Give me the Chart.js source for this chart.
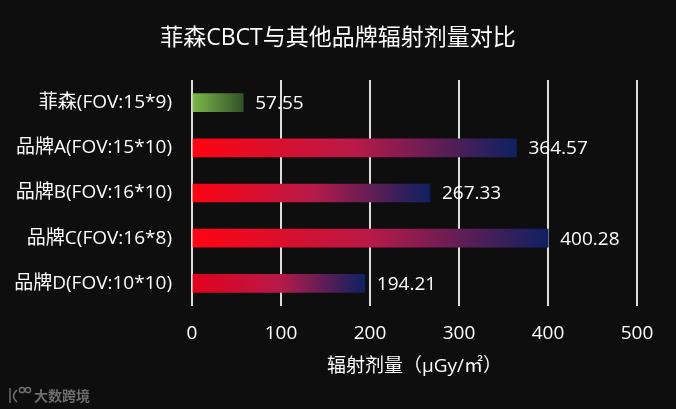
<!DOCTYPE html>
<html>
<head>
<meta charset="utf-8">
<script src="https://cdn.jsdelivr.net/npm/chart.js@4"></script>
<style>
  html, body { margin: 0; padding: 0; background: #0e0e0e; }
  #wrap { width: 676px; height: 409px; position: relative; }
</style>
</head>
<body>
<div id="wrap"><canvas id="chart" width="676" height="409"></canvas></div>
<script>
const categories = ["菲森(FOV:15*9)", "品牌A(FOV:15*10)", "品牌B(FOV:16*10)", "品牌C(FOV:16*8)", "品牌D(FOV:10*10)"];
const doseValues = [57.55, 364.57, 267.33, 400.28, 194.21];
const xTicks = [0, 100, 200, 300, 400, 500];
const chartTitle = "菲森CBCT与其他品牌辐射剂量对比";

const FONT = "'Open Sans', 'Noto Sans CJK SC', sans-serif";

// gradient per bar, from the base to the end of the bar
function barColor(ctx) {
  const chart = ctx.chart;
  const xs = chart.scales.x;
  if (!xs || !chart.chartArea) return "#ff0010";
  const x0 = xs.getPixelForValue(0);
  const x1 = xs.getPixelForValue(doseValues[ctx.dataIndex]);
  if (!isFinite(x0) || !isFinite(x1) || x0 === x1) return "#ff0010";
  const g = chart.ctx.createLinearGradient(x0, 0, x1, 0);
  if (ctx.dataIndex === 0) {
    g.addColorStop(0, "#7cb84a");
    g.addColorStop(1, "#34522a");
  } else {
    g.addColorStop(0, ctx.dataIndex === 4 ? "#e2001a" : "#ff0412");
    g.addColorStop(0.5, "#b81a48");
    g.addColorStop(1, "#0e2162");
  }
  return g;
}

// value labels at the end of the bars
const valueLabels = {
  id: "valueLabels",
  afterDatasetsDraw(chart) {
    const c = chart.ctx;
    const meta = chart.getDatasetMeta(0);
    c.save();
    c.font = "19px " + FONT;
    c.fillStyle = "#ffffff";
    c.textAlign = "left";
    c.textBaseline = "middle";
    meta.data.forEach((bar, i) => {
      c.fillText(doseValues[i].toFixed(2), bar.x + 12, bar.y + 1);
    });
    c.restore();
  }
};

// title centred on the whole canvas + watermark
const decor = {
  id: "decor",
  beforeDraw(chart) {
    const c = chart.ctx;
    c.save();
    c.fillStyle = "#0e0e0e";
    c.fillRect(0, 0, chart.width, chart.height);
    c.restore();
  },
  afterDraw(chart) {
    const c = chart.ctx;
    c.save();
    c.fillStyle = "#ffffff";
    c.font = "23px " + FONT;
    c.textAlign = "center";
    c.textBaseline = "middle";
    c.fillText(chartTitle, chart.width / 2, 38);

    c.strokeStyle = "#6e6e6e";
    c.fillStyle = "#6e6e6e";
    c.lineWidth = 1.5;
    c.beginPath();
    c.moveTo(10, 388); c.lineTo(10, 403);
    c.moveTo(17, 390); c.quadraticCurveTo(10, 396, 17, 402);
    c.stroke();
    c.beginPath(); c.arc(22, 390, 2.6, 0, Math.PI * 2); c.stroke();
    c.beginPath(); c.arc(28, 390, 2.6, 0, Math.PI * 2); c.stroke();
    c.font = "bold 14px 'Noto Sans CJK SC', sans-serif";
    c.textAlign = "left";
    c.fillText("大数跨境", 34, 396);
    c.restore();
  }
};

new Chart(document.getElementById("chart"), {
  type: "bar",
  data: {
    labels: categories,
    datasets: [{
      data: doseValues,
      backgroundColor: barColor,
      barThickness: 18,
      borderWidth: 0
    }]
  },
  options: {
    indexAxis: "y",
    responsive: false,
    animation: false,
    layout: { padding: { left: 0, right: 39, top: 80, bottom: 31 } },
    plugins: {
      legend: { display: false },
      tooltip: { enabled: false },
      title: { display: false }
    },
    scales: {
      x: {
        min: 0,
        max: 500,
        afterBuildTicks(scale) { scale.ticks = xTicks.map(v => ({ value: v })); },
        afterFit(scale) { scale.height = 72; },
        grid: { color: "#dddddd", lineWidth: 2, drawTicks: false },
        border: { display: false },
        ticks: { color: "#ffffff", font: { family: FONT, size: 19 }, padding: 16 },
        title: {
          display: true,
          text: "辐射剂量（μGy/㎡）",
          color: "#ffffff",
          font: { family: FONT, size: 19 },
          padding: { top: 8, bottom: 0 }
        }
      },
      y: {
        grid: { display: false, drawTicks: false },
        border: { display: false },
        ticks: { color: "#ffffff", font: { family: FONT, size: 19 }, padding: 20 },
        afterFit(scale) { scale.width = 192; }
      }
    }
  },
  plugins: [valueLabels, decor]
});
</script>
</body>
</html>
